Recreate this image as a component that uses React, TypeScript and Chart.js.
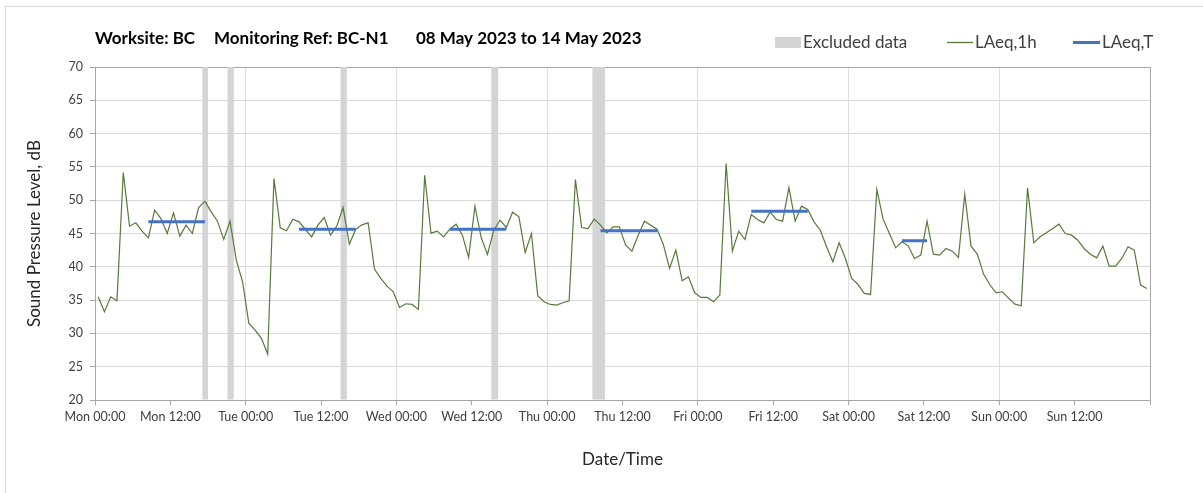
import React, { useEffect, useRef } from 'react';
import { Chart, registerables } from 'chart.js';

Chart.register(...registerables);

// LAeq,1h hourly values (dB), Mon 00:00 .. Sun 23:00
const laeq1h: number[] = [
  35.5, 33.25, 35.5, 34.9, 54.15, 46.1, 46.6, 45.35, 44.35, 48.5, 47.25, 45,
  48.1, 44.6, 46.25, 45, 48.9, 49.85, 48.25, 46.85, 44.1, 46.85, 41, 37.75,
  31.5, 30.5, 29.25, 26.9, 53.25, 45.85, 45.4, 47.15, 46.75, 45.6, 44.5, 46.25,
  47.4, 44.75, 46.1, 48.9, 43.4, 45.6, 46.3, 46.6, 39.65, 38.25, 37.1, 36.25,
  33.9, 34.45, 34.35, 33.6, 53.75, 45.05, 45.35, 44.5, 45.65, 46.4, 44.75, 41.4,
  49.1, 44.4, 41.85, 45.5, 47, 45.9, 48.2, 47.5, 42.15, 45, 35.65, 34.75,
  34.35, 34.25, 34.6, 34.9, 53.1, 45.9, 45.75, 47.15, 46.25, 45.1, 46, 46,
  43.25, 42.35, 44.75, 46.85, 46.25, 45.65, 43.35, 39.75, 42.5, 37.9, 38.5, 36.1,
  35.4, 35.4, 34.75, 35.75, 55.5, 42.35, 45.35, 44.1, 47.85, 47.1, 46.6, 48.2,
  47.1, 46.85, 51.9, 46.85, 49.1, 48.6, 46.75, 45.5, 43, 40.75, 43.6, 41.25,
  38.25, 37.35, 36, 35.85, 51.6, 47.15, 45, 42.85, 43.75, 43.15, 41.25, 41.75,
  46.85, 41.9, 41.75, 42.75, 42.35, 41.4, 50.9, 43.1, 41.9, 38.9, 37.3, 36.1,
  36.25, 35.25, 34.4, 34.15, 51.85, 43.6, 44.5, 45.1, 45.75, 46.4, 45, 44.75,
  44, 42.75, 41.9, 41.35, 43.1, 40.1, 40.1, 41.25, 43, 42.5, 37.25, 36.75,
];

// LAeq,T periods (hour index start/end) and values
const laeqTStart: number[] = [8, 32, 56, 80, 104, 128];
const laeqTEnd: number[] = [17, 41, 65, 89, 113, 132];
const laeqTValues: number[] = [46.75, 45.65, 45.65, 45.4, 48.35, 43.9];

// Excluded data periods (hours from Mon 00:00)
const excludedStart: number[] = [17.1, 21.1, 39.1, 63.1, 79.2];
const excludedEnd: number[] = [18.0, 22.1, 40.1, 64.2, 81.2];

const xTickLabels: string[] = [
  'Mon 00:00', 'Mon 12:00', 'Tue 00:00', 'Tue 12:00', 'Wed 00:00', 'Wed 12:00',
  'Thu 00:00', 'Thu 12:00', 'Fri 00:00', 'Fri 12:00', 'Sat 00:00', 'Sat 12:00',
  'Sun 00:00', 'Sun 12:00',
];

const FONT = 'Lato, "Open Sans", sans-serif';

const excludedPlugin = {
  id: 'excludedBands',
  beforeDatasetsDraw(chart: any) {
    const { ctx, chartArea, scales } = chart;
    const xs = scales.x;
    ctx.save();
    ctx.fillStyle = '#d4d4d4';
    for (let k = 0; k < excludedStart.length; k++) {
      const x1 = xs.getPixelForValue(excludedStart[k]);
      const x2 = xs.getPixelForValue(excludedEnd[k]);
      ctx.fillRect(x1, chartArea.top, x2 - x1, chartArea.bottom - chartArea.top - 0.5);
    }
    ctx.restore();
  },
};

const decorPlugin = {
  id: 'decor',
  beforeDraw(chart: any) {
    const { ctx } = chart;
    ctx.save();
    ctx.fillStyle = '#ffffff';
    ctx.fillRect(0, 0, chart.width, chart.height);
    ctx.strokeStyle = '#d9d9d9';
    ctx.lineWidth = 1;
    ctx.strokeRect(5.5, 6.5, chart.width + 20, chart.height + 20);
    ctx.restore();
  },
  afterDraw(chart: any) {
    const { ctx } = chart;
    ctx.save();
    ctx.textBaseline = 'middle';
    ctx.textAlign = 'left';
    // title
    ctx.fillStyle = '#000000';
    ctx.font = `bold 17px ${FONT}`;
    ctx.fillText('Worksite: BC', 95, 39);
    ctx.fillText('Monitoring Ref: BC-N1', 214, 39);
    ctx.fillText('08 May 2023 to 14 May 2023', 416, 39);
    // legend
    const ly = 42.5;
    ctx.font = `17px ${FONT}`;
    ctx.fillStyle = '#d4d4d4';
    ctx.fillRect(775, 37, 26, 11);
    ctx.fillStyle = '#404040';
    ctx.fillText('Excluded data', 803, ly);
    ctx.strokeStyle = '#577a3a';
    ctx.lineWidth = 1.3;
    ctx.beginPath();
    ctx.moveTo(947, ly);
    ctx.lineTo(973, ly);
    ctx.stroke();
    ctx.fillStyle = '#404040';
    ctx.fillText('LAeq,1h', 975, ly);
    ctx.strokeStyle = '#4472c4';
    ctx.lineWidth = 3;
    ctx.beginPath();
    ctx.moveTo(1073, ly);
    ctx.lineTo(1100, ly);
    ctx.stroke();
    ctx.fillText('LAeq,T', 1102, ly);
    ctx.restore();
  },
};

export default function App() {
  const canvasRef = useRef<HTMLCanvasElement | null>(null);

  useEffect(() => {
    if (!canvasRef.current) return;
    const hourlyPoints = laeq1h.map((v, i) => ({ x: i + 0.5, y: v }));
    const tPoints: any[] = [];
    for (let k = 0; k < laeqTStart.length; k++) {
      for (let h = laeqTStart[k]; h <= laeqTEnd[k]; h++) {
        tPoints.push({ x: h + 0.5, y: laeqTValues[k] });
      }
      tPoints.push({ x: laeqTEnd[k] + 1, y: null });
    }

    const chart = new Chart(canvasRef.current, {
      type: 'line',
      data: {
        datasets: [
          {
            label: 'LAeq,T',
            data: tPoints,
            borderColor: '#4472c4',
            borderWidth: 3,
            pointRadius: 0,
            spanGaps: false,
            order: 0,
            tension: 0,
          },
          {
            label: 'LAeq,1h',
            data: hourlyPoints,
            borderColor: '#577a3a',
            borderWidth: 1.2,
            pointRadius: 0,
            order: 1,
            tension: 0,
          },
        ],
      },
      options: {
        animation: false,
        responsive: false,
        devicePixelRatio: 1,
        events: [],
        layout: { padding: { top: 67, right: 53, bottom: 0, left: 0 } },
        plugins: {
          legend: { display: false },
          title: { display: false },
          tooltip: { enabled: false },
        },
        scales: {
          x: {
            type: 'linear',
            min: 0,
            max: 168,
            afterFit: (scale: any) => {
              scale.height = 93;
            },
            ticks: {
              stepSize: 12,
              autoSkip: false,
              maxRotation: 0,
              padding: 4,
              color: '#404040',
              font: { family: FONT, size: 12.5 },
              callback: (v: any) => xTickLabels[Math.round(Number(v) / 12)] ?? '',
            },
            grid: {
              color: (c: any) => {
                const v = c.tick ? c.tick.value : 0;
                if (v === 168) return '#a6a6a6';
                return v % 24 === 0 ? '#dedede' : 'rgba(0,0,0,0)';
              },
              tickColor: '#a6a6a6',
              tickLength: 5,
              lineWidth: 1,
            },
            border: { color: '#a6a6a6', width: 1 },
            title: {
              display: true,
              text: 'Date/Time',
              color: '#262626',
              font: { family: FONT, size: 17 },
              padding: { top: 0, bottom: 23 },
            },
          },
          y: {
            min: 20,
            max: 70,
            afterFit: (scale: any) => {
              scale.width = 95;
            },
            ticks: {
              stepSize: 5,
              padding: 7,
              color: '#404040',
              font: { family: FONT, size: 12.5 },
            },
            grid: {
              color: (c: any) => (c.tick && c.tick.value === 70 ? '#a6a6a6' : '#d9d9d9'),
              tickColor: '#a6a6a6',
              tickLength: 5,
              lineWidth: 1,
            },
            border: { color: '#a6a6a6', width: 1 },
            title: {
              display: true,
              text: 'Sound Pressure Level, dB',
              color: '#262626',
              font: { family: FONT, size: 17 },
              padding: { top: 24, bottom: 0 },
            },
          },
        },
      },
      plugins: [decorPlugin, excludedPlugin],
    });
    return () => chart.destroy();
  }, []);

  return (
    <div style={{ position: 'absolute', left: 0, top: 0, width: 1203, height: 493 }}>
      <canvas ref={canvasRef} width={1203} height={493} style={{ display: 'block' }} />
    </div>
  );
}
